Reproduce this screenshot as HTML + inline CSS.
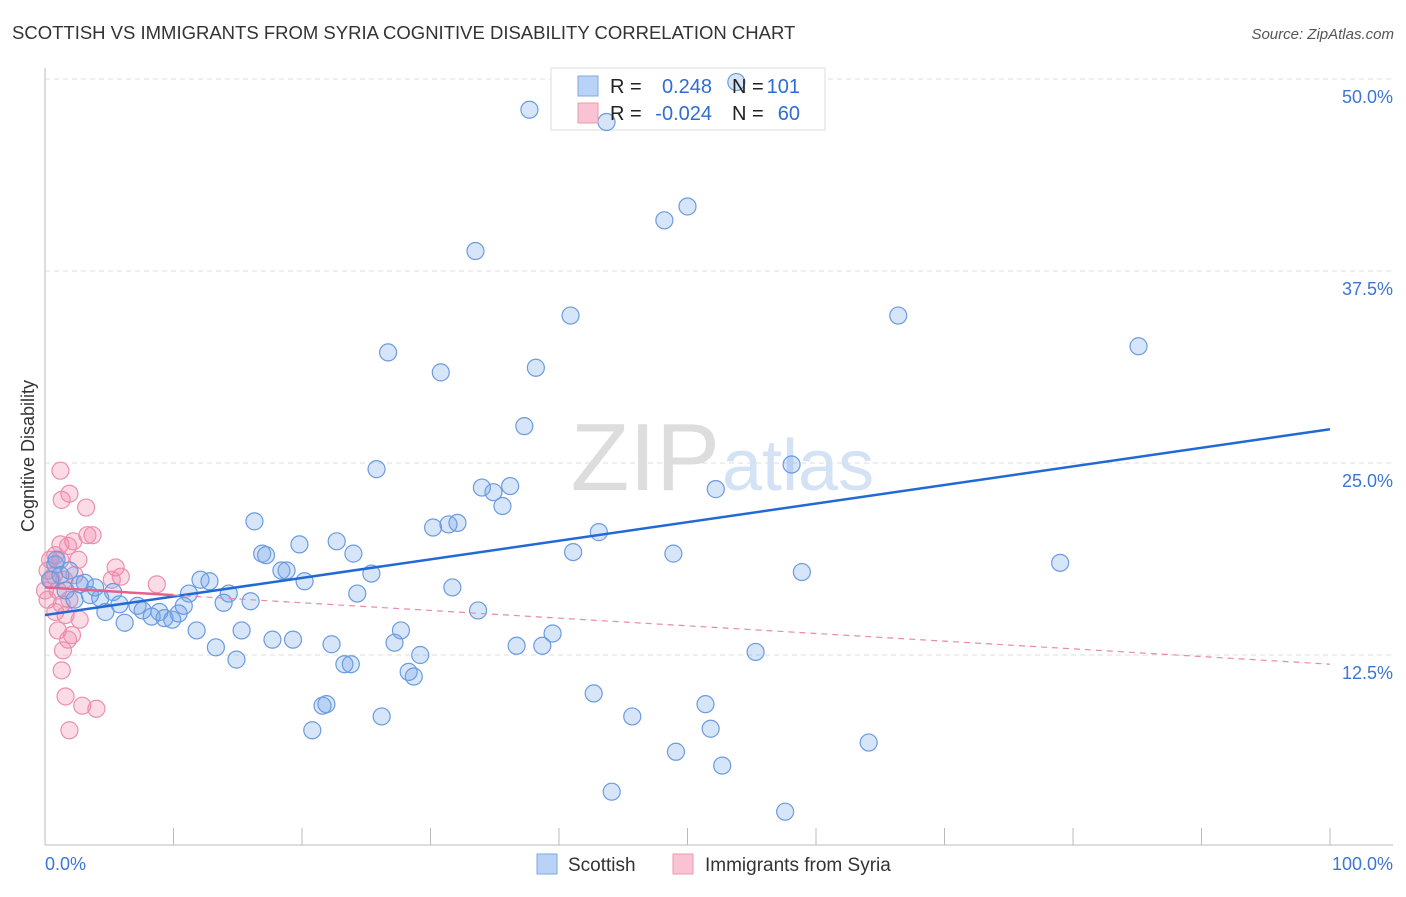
<!DOCTYPE html>
<html><head><meta charset="utf-8"><style>
body{margin:0;background:#fff;font-family:"Liberation Sans",sans-serif}
svg text{font-family:"Liberation Sans",sans-serif}
</style></head><body>
<svg id="c" width="1406" height="892" xmlns="http://www.w3.org/2000/svg">
<text x="12" y="39" font-size="18.5" fill="#333">SCOTTISH VS IMMIGRANTS FROM SYRIA COGNITIVE DISABILITY CORRELATION CHART</text>
<text x="1394" y="39" font-size="15" fill="#555" text-anchor="end" font-style="italic">Source: ZipAtlas.com</text>
<text x="0" y="0" transform="translate(34,456) rotate(-90)" font-size="18" fill="#333" text-anchor="middle">Cognitive Disability</text>
<text x="720" y="490" font-size="96" fill="#ddd" text-anchor="end" font-family="Liberation Serif">ZIP</text>
<text x="722" y="490" font-size="72" fill="#d4e2f5">atlas</text>
<g id="grid"></g>
<rect x="551" y="68" width="274" height="62" fill="#fff" stroke="#ddd"/>
<g id="pts"></g><g id="lines"></g>
<g>
<rect x="578" y="76" width="20" height="20" fill="#b8d3f5" stroke="#7fa8e0"/>
<rect x="578" y="103" width="20" height="20" fill="#f9c3d3" stroke="#ec9ab3"/>
<text x="610" y="93" font-size="20" fill="#222">R =</text><text x="712" y="93" font-size="20" fill="#2d6ed0" text-anchor="end">0.248</text>
<text x="732" y="93" font-size="20" fill="#222">N =</text><text x="800" y="93" font-size="20" fill="#2d6ed0" text-anchor="end">101</text>
<text x="610" y="120" font-size="20" fill="#222">R =</text><text x="712" y="120" font-size="20" fill="#2d6ed0" text-anchor="end">-0.024</text>
<text x="732" y="120" font-size="20" fill="#222">N =</text><text x="800" y="120" font-size="20" fill="#2d6ed0" text-anchor="end">60</text>
</g>
<g>
<rect x="537" y="854" width="20" height="20" fill="#b8d3f5" stroke="#7fa8e0"/>
<text x="568" y="871" font-size="19" fill="#333">Scottish</text>
<rect x="673" y="854" width="20" height="20" fill="#f9c3d3" stroke="#ec9ab3"/>
<text x="705" y="871" font-size="19" fill="#333">Immigrants from Syria</text>
</g>
<text x="45" y="870" font-size="18" fill="#3b76d6">0.0%</text>
<text x="1393" y="870" font-size="18" fill="#3b76d6" text-anchor="end">100.0%</text>
</svg>
<script>
const yTicks=[12.5,25,37.5,50];
const yTickLabels=["12.5%","25.0%","37.5%","50.0%"];
const blueX=[37.7,43.7,50.0,48.2,33.5,40.9,66.4,85.1,26.7,30.8,38.2,37.3,25.8,58.1,34.0,36.2,34.9,35.6,52.2,16.3,30.2,31.4,32.1,43.1,22.7,19.8,16.9,17.2,24.0,41.1,48.9,79.0,18.4,18.8,25.4,58.9,12.1,12.8,20.2,31.7,11.2,14.3,24.3,16.0,13.9,10.8,33.7,8.9,7.2,7.6,10.4,8.3,9.3,9.9,6.2,11.8,15.3,27.7,39.5,17.7,19.3,22.3,27.2,36.7,38.7,13.3,29.2,55.3,14.9,23.3,23.8,28.3,28.7,42.7,21.6,21.9,51.4,26.2,45.7,20.8,51.8,64.1,49.1,52.7,44.1,57.6,0.8,1.2,1.9,2.7,3.5,4.3,5.3,1.6,2.3,0.4,3.1,3.9,5.8,4.7,0.9,53.8];
const blueY=[48.0,47.2,41.7,40.8,38.8,34.6,34.6,32.6,32.2,30.9,31.2,27.4,24.6,24.9,23.4,23.5,23.1,22.2,23.3,21.2,20.8,21.0,21.1,20.5,19.9,19.7,19.1,19.0,19.1,19.2,19.1,18.5,18.0,18.0,17.8,17.9,17.4,17.3,17.3,16.9,16.5,16.5,16.5,16.0,15.9,15.7,15.4,15.3,15.7,15.4,15.2,15.0,14.9,14.8,14.6,14.1,14.1,14.1,13.9,13.5,13.5,13.2,13.3,13.1,13.1,13.0,12.5,12.7,12.2,11.9,11.9,11.4,11.1,10.0,9.2,9.3,9.3,8.5,8.5,7.6,7.7,6.8,6.2,5.3,3.6,2.3,18.4,17.7,18.0,17.1,16.4,16.2,16.6,16.7,16.1,17.4,17.2,16.9,15.8,15.3,18.7,49.8];
const pinkX=[1.2,1.9,1.3,3.2,3.7,3.3,2.2,1.2,1.8,5.5,5.9,5.2,8.7,0.8,0.2,0.5,1.0,0.2,1.3,1.9,0.8,1.6,2.3,2.7,1.0,2.1,1.8,1.4,1.3,1.6,2.9,4.0,1.9,0.4,1.2,0,2.6,0.7,1.5];
const pinkY=[24.5,23.0,22.6,22.1,20.3,20.3,19.9,19.7,19.6,18.2,17.6,17.4,17.1,19.0,18.0,17.4,16.7,16.1,15.8,16.1,15.3,15.1,17.7,14.8,14.1,13.8,13.5,12.8,11.5,9.8,9.2,9.0,7.6,18.7,18.7,16.7,18.7,17.7,17.4];
const blueTrend=[15.1,27.2];
const pinkTrend=[16.9,11.9];
const pinkSolidEnd=10;
const X=v=>45+v*12.85, Y=v=>847-v*15.36;
const NS="http://www.w3.org/2000/svg";
function mk(t,a,p){const e=document.createElementNS(NS,t);for(const k in a)e.setAttribute(k,a[k]);p.appendChild(e);return e;}
const grid=document.getElementById('grid');
yTicks.forEach((t,i)=>{
 const l=mk('line',{x1:45,x2:1393,y1:Y(t),y2:Y(t),stroke:'#ddd','stroke-dasharray':'5,4'},grid);
 
 
 const tx=mk('text',{x:1393,y:Y(t)+24,'font-size':18,fill:'#3b76d6','text-anchor':'end'},grid);
 tx.textContent=yTickLabels[i];
 
 
});
mk('line',{x1:45,x2:45,y1:68,y2:845,stroke:'#bbb'},grid);
mk('line',{x1:45,x2:1393,y1:845,y2:845,stroke:'#bbb'},grid);
for(let i=1;i<=10;i++){const t=mk('line',{x1:X(i*10),x2:X(i*10),y1:828,y2:845,stroke:'#bbb'},grid);}
const pts=document.getElementById('pts');
pinkX.forEach((v,i)=>{const c=mk('circle',{cx:X(v),cy:Y(pinkY[i]),r:8.5,fill:'rgba(240,130,165,0.28)',stroke:'#ec8fae','stroke-width':1.2},pts);
 
 });
blueX.forEach((v,i)=>{const c=mk('circle',{cx:X(v),cy:Y(blueY[i]),r:8.5,fill:'rgba(110,160,230,0.28)',stroke:'#6b9be0','stroke-width':1.2},pts);
 
 });
const ln=document.getElementById('lines');
const b=mk('line',{x1:X(0),y1:Y(blueTrend[0]),x2:X(100),y2:Y(blueTrend[1]),stroke:'#2169d4','stroke-width':2.5},ln);


const py=v=>pinkTrend[0]+(pinkTrend[1]-pinkTrend[0])*v/100;
const p1=mk('line',{x1:X(0),y1:Y(py(0)),x2:X(pinkSolidEnd),y2:Y(py(pinkSolidEnd)),stroke:'#e8608a','stroke-width':2.5},ln);


const p2=mk('line',{x1:X(pinkSolidEnd),y1:Y(py(pinkSolidEnd)),x2:X(100),y2:Y(py(100)),stroke:'#e88aa8','stroke-width':1.2,'stroke-dasharray':'6,5'},ln);


</script>
</body></html>
